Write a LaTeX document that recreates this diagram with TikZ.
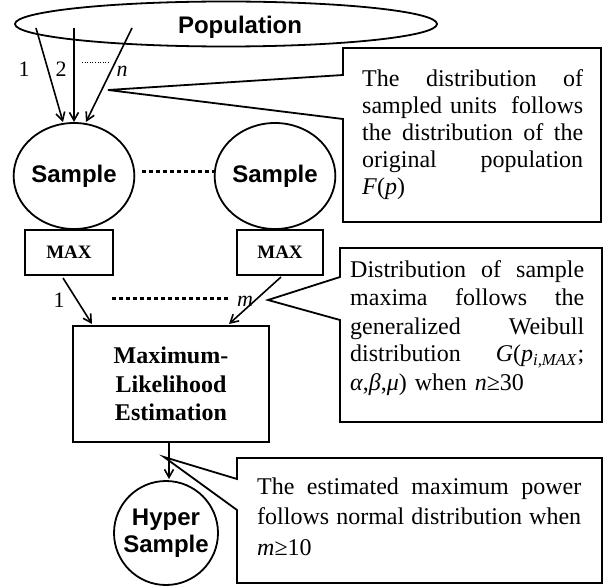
\documentclass[tikz,border=0pt]{standalone}
\usepackage{fontspec}
\setmainfont{Liberation Serif}
\newfontfamily\arialfont{Liberation Sans}
\usetikzlibrary{shapes.geometric,arrows.meta,calc}
\begin{document}
\begin{tikzpicture}[x=1pt,y=-1pt,
  every node/.style={inner sep=0pt},
  lw/.style={line width=1.8pt},
  arr/.style={line width=1.6pt,-{Straight Barb[length=8pt,width=9pt]}},
  thindots/.style={line width=0.9pt,dash pattern=on 1pt off 1.6pt},
  thickdots/.style={line width=3pt,dash pattern=on 4pt off 3pt},
  sansbig/.style={font=\arialfont\bfseries\fontsize{24}{27}\selectfont},
  body/.style={font=\fontsize{24}{27}\selectfont},
  lbl/.style={font=\fontsize{22}{24}\selectfont},
  box/.style={draw,lw,line join=miter}
]
\useasboundingbox (0,0) rectangle (608,588);

% population
\node[draw,lw,ellipse,minimum width=422pt,minimum height=45pt] (pop) at (226,24) {};
\node[sansbig,anchor=base] (poptext) at (240,34) {Population};

% samples
\node[draw,lw,ellipse,minimum width=96pt,minimum height=106pt,sansbig] (s1) at (74,176) {Sample};
\node[draw,lw,ellipse,minimum width=96pt,minimum height=106pt,sansbig] (s2) at (275,176) {Sample};

% MAX boxes
\node[box,minimum width=88pt,minimum height=45pt,font=\bfseries\fontsize{19}{20}\selectfont] (m1) at (69,252.5) {MAX};
\node[box,minimum width=86pt,minimum height=45pt,font=\bfseries\fontsize{19}{20}\selectfont] (m2) at (280,252.5) {MAX};

% MLE
\node[box,minimum width=196pt,minimum height=116pt,align=center,font=\bfseries\fontsize{24}{28.5}\selectfont] (mle) at (171,384) {Maximum-\\Likelihood\\Estimation};

% Hyper sample
\node[draw,lw,circle,minimum size=104pt,align=center,sansbig] (hs) at (166,533) {Hyper\\Sample};

% population -> sample arrows
\coordinate (a1s) at (36,28);
\coordinate (a2s) at (74,28);
\coordinate (a3s) at (132,28);
\coordinate (a1e) at (63,122);
\coordinate (a2e) at (74,122);
\coordinate (a3e) at (86,122);
\draw[arr] (a1s) -- (a1e);
\draw[arr] (a2s) -- (a2e);
\draw[arr] (a3s) -- (a3e);
\node[lbl,anchor=base] (l1) at (24,77) {1};
\node[lbl,anchor=base] (l2) at (61,77) {2};
\node[lbl,anchor=base] (ln) at (122,77) {\textit{n}};
\coordinate (d1a) at (82,62);
\coordinate (d1b) at (110,62);
\draw[thindots] (d1a) -- (d1b);

% dots between samples
\coordinate (d2a) at (142,172);
\coordinate (d2b) at (214,172);
\draw[thickdots] (d2a) -- (d2b);

% MAX -> MLE arrows
\coordinate (b1s) at (63,278);
\coordinate (b1e) at (92,324);
\coordinate (b2s) at (281,277);
\coordinate (b2e) at (229,324);
\draw[arr] (b1s) -- (b1e);
\draw[arr] (b2s) -- (b2e);
\node[lbl,anchor=base] (l1b) at (59,307) {1};
\node[lbl,anchor=base] (lm) at (245,306) {\textit{m}};
\coordinate (d3a) at (112,298);
\coordinate (d3b) at (228,298);
\draw[thickdots] (d3a) -- (d3b);

% MLE -> Hyper sample
\coordinate (c1s) at (169,442);
\coordinate (c1e) at (169,479);
\draw[arr] (c1s) -- (c1e);

% callout 1
\coordinate (t1) at (108,90);
\draw[box] (343,48) -- (601,48) -- (601,222) -- (343,222) -- (343,119) -- (t1) -- (343,75) -- cycle;
\node[body,anchor=base west,text width=221pt,align=left] (co1) at (362,87)
 {The\hfill distribution\hfill of\\
  sampled units\hfill follows\\
  the\hfill distribution\hfill of\hfill the\\
  original\hfill population\\
  \textit{F}(\textit{p})};

% callout 2
\coordinate (t2) at (268,300);
\draw[box] (340,248) -- (602,248) -- (602,422) -- (340,422) -- (340,320) -- (t2) -- (340,277) -- cycle;
\node[body,font=\fontsize{24}{28}\selectfont,anchor=base west,text width=234pt,align=left] (co2) at (350,278)
 {Distribution\hfill of\hfill sample\\
  maxima\hfill follows\hfill the\\
  generalized\hfill Weibull\\
  distribution\hfill \textit{G}(\textit{p}\textsubscript{\textit{i,MAX}};\\
  \textit{α},\textit{β},\textit{μ}) when \textit{n}≥30};

% callout 3
\coordinate (t3) at (164,457);
\draw[box] (237,458) -- (602,458) -- (602,583) -- (237,583) -- (237,510) -- (t3) -- (237,479) -- cycle;
\node[font=\fontsize{24}{30.5}\selectfont,anchor=base west,text width=324pt,align=left] (co3) at (257,494)
 {The\hfill estimated\hfill maximum\hfill power\\
  follows\hfill normal\hfill distribution\hfill when\\
  \textit{m}≥10};
\end{tikzpicture}
\end{document}
